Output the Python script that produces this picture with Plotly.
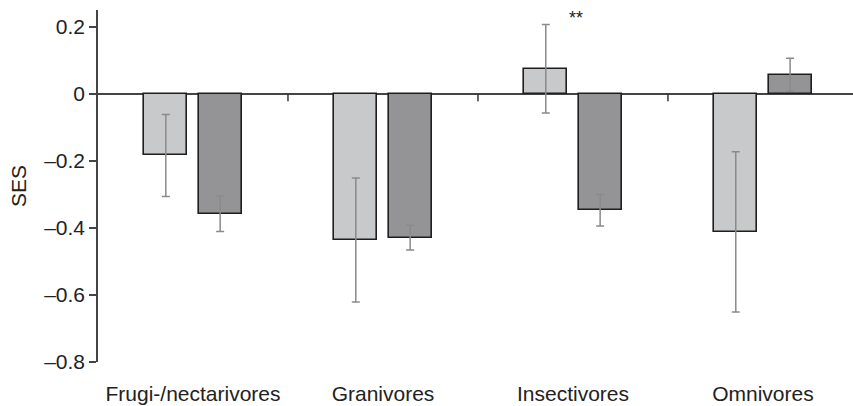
import plotly.graph_objects as go

# Feeding guilds and standardized effect sizes (mean ± error) for two groups
categories = ["Frugi-/nectarivores", "Granivores", "Insectivores", "Omnivores"]
ses_light = [-0.184, -0.436, 0.075, -0.412]
err_light = [0.122, 0.185, 0.132, 0.239]
ses_dark = [-0.358, -0.429, -0.347, 0.057]
err_dark = [0.053, 0.037, 0.047, 0.049]
significance = ["", "", "**", ""]

x_pos = list(range(len(categories)))
bar_w = 0.226

font_family = "Liberation Sans, Arial, sans-serif"
ink = "#222222"

fig = go.Figure()

fig.add_trace(go.Bar(
    x=x_pos, y=ses_light, width=bar_w, offset=-0.256,
    marker=dict(color="#c8c9cb", line=dict(color="#1e1e1e", width=1.6)),
    error_y=dict(type="data", array=err_light, color="#8a8a8a", thickness=1.5, width=4),
    showlegend=False,
))
fig.add_trace(go.Bar(
    x=x_pos, y=ses_dark, width=bar_w, offset=0.030,
    marker=dict(color="#949496", line=dict(color="#1e1e1e", width=1.6)),
    error_y=dict(type="data", array=err_dark, color="#8a8a8a", thickness=1.5, width=4),
    showlegend=False,
))

# small separator ticks hanging below the zero line between guilds
for i in range(len(categories) - 1):
    fig.add_shape(type="line", xref="x", yref="y",
                  x0=i + 0.5, x1=i + 0.5, y0=0, y1=-0.022,
                  line=dict(color="#333333", width=1.5))

# significance markers
for i, s in enumerate(significance):
    if s:
        fig.add_annotation(x=i + 0.015, y=0.227, xref="x", yref="y", text=s,
                           showarrow=False, yanchor="middle",
                           font=dict(size=18, color=ink, family=font_family))

fig.update_layout(
    width=853, height=406,
    margin=dict(l=98, r=0, t=10, b=44),
    paper_bgcolor="white", plot_bgcolor="white",
    font=dict(family=font_family, color=ink),
    barmode="overlay",
    bargap=0,
)

fig.update_xaxes(
    range=[-0.5, 3.474],
    tickvals=x_pos, ticktext=categories,
    showline=False, showgrid=False, zeroline=False,
    ticks="outside", ticklen=13, tickcolor="rgba(0,0,0,0)",
    tickfont=dict(size=21, color=ink),
)

fig.update_yaxes(
    range=[-0.8, 0.25],
    tickvals=[-0.8, -0.6, -0.4, -0.2, 0, 0.2],
    ticktext=["\u20130.8", "\u20130.6", "\u20130.4", "\u20130.2", "0", "0.2"],
    showline=True, linecolor="#444444", linewidth=1.5,
    ticks="outside", ticklen=7, tickwidth=1.5, tickcolor="#444444",
    showgrid=False,
    zeroline=True, zerolinecolor="#444444", zerolinewidth=1.5,
    tickfont=dict(size=21, color=ink),
    title=dict(text="SES", font=dict(size=21, color=ink), standoff=12),
)

fig.write_html("out.html")
